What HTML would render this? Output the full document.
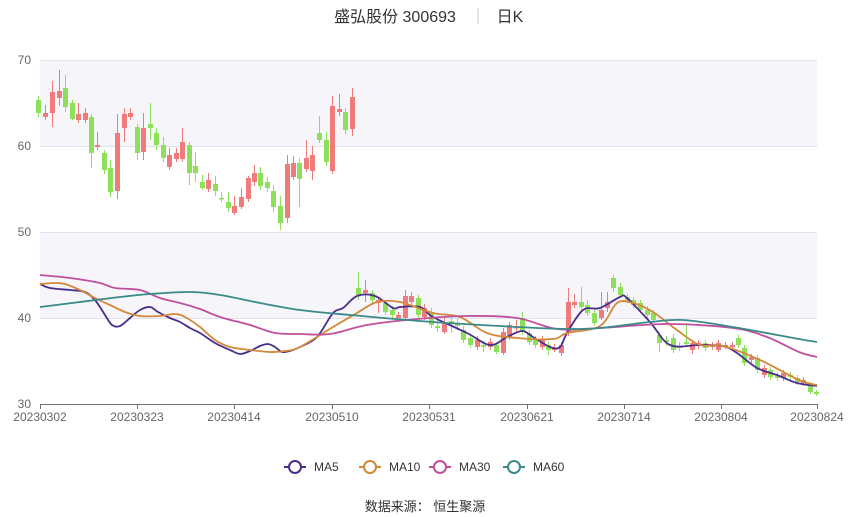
<!DOCTYPE html>
<html><head><meta charset="utf-8"><style>
html,body{margin:0;padding:0;background:#fff;}
svg{display:block;font-family:"Liberation Sans","Noto Sans CJK SC",sans-serif;}
</style></head><body>
<svg id="c" width="850" height="517" viewBox="0 0 850 517" xmlns="http://www.w3.org/2000/svg">
<rect x="40" y="60" width="777" height="86" fill="#f5f5fa"/>
<rect x="40" y="232" width="777" height="86" fill="#f5f5fa"/>
<g stroke="#e0e3ee" stroke-width="1">
<line x1="40" y1="60.5" x2="817" y2="60.5"/><line x1="40" y1="146.5" x2="817" y2="146.5"/>
<line x1="40" y1="232.5" x2="817" y2="232.5"/><line x1="40" y1="318.5" x2="817" y2="318.5"/>
</g>
<g fill="#666" font-size="12" text-anchor="end">
<text x="31" y="64">70</text><text x="31" y="150">60</text><text x="31" y="236">50</text><text x="31" y="322">40</text><text x="31" y="408">30</text>
</g>
<line x1="40" y1="404.5" x2="817" y2="404.5" stroke="#6e7079"/>
<g id="ticks" stroke="#6e7079"></g>
<g fill="#666" font-size="12" text-anchor="middle">
<text x="40" y="421">20230302</text><text x="137" y="421">20230323</text><text x="234" y="421">20230414</text>
<text x="332" y="421">20230510</text><text x="429" y="421">20230531</text><text x="527" y="421">20230621</text>
<text x="624" y="421">20230714</text><text x="721" y="421">20230804</text><text x="817" y="421">20230824</text>
</g>
<g id="cand"></g>
<g id="ma" fill="none" stroke-width="1.8"></g>
<text x="395" y="22" font-size="16" fill="#333" text-anchor="middle">盛弘股份 300693</text>
<line x1="478" y1="8" x2="478" y2="24" stroke="#ccc"/>
<text x="510" y="22" font-size="16" fill="#333" text-anchor="middle">日K</text>
<g font-size="12" fill="#333">
<line x1="284" y1="467" x2="306" y2="467" stroke="#4b2e8c" stroke-width="2"/><circle cx="295" cy="467" r="6" fill="#fff" stroke="#4b2e8c" stroke-width="2"/><text x="314" y="471">MA5</text>
<line x1="359" y1="467" x2="381" y2="467" stroke="#d4883a" stroke-width="2"/><circle cx="370" cy="467" r="6" fill="#fff" stroke="#d4883a" stroke-width="2"/><text x="389" y="471">MA10</text>
<line x1="429" y1="467" x2="451" y2="467" stroke="#c0509e" stroke-width="2"/><circle cx="440" cy="467" r="6" fill="#fff" stroke="#c0509e" stroke-width="2"/><text x="459" y="471">MA30</text>
<line x1="503" y1="467" x2="525" y2="467" stroke="#3a8a8a" stroke-width="2"/><circle cx="514" cy="467" r="6" fill="#fff" stroke="#3a8a8a" stroke-width="2"/><text x="533" y="471">MA60</text>
</g>
<text x="425" y="511" font-size="13" fill="#333" text-anchor="middle">数据来源： 恒生聚源</text>
</svg>
<script>
var NS="http://www.w3.org/2000/svg";
function el(p,n,a){var e=document.createElementNS(NS,n);for(var k in a)e.setAttribute(k,a[k]);p.appendChild(e);return e;}
var tk=document.getElementById('ticks');
[40,137,234,332,429,527,624,721,817].forEach(function(x){el(tk,'line',{x1:x+.5,y1:404,x2:x+.5,y2:409});});
var C=[
[38,100,113,'g',96,117],[45,113,117,'r',105,120],[52,92,113,'r',81,127],[59,91,98,'r',70,106],[65,88,107,'g',75,112],
[72,103,119,'g',100,120],[78,114,120,'r',103,123],[85,113,120,'r',108,123],[91,117,153,'g',114,168],[97,145,147,'r',132,150],
[104,153,170,'g',150,174],[110,168,192,'g',160,197],[117,133,191,'r',114,199],[124,114,128,'r',108,142],[130,113,117,'r',108,120],
[137,127,153,'g',124,160],[143,128,152,'r',113,160],[150,124,128,'g',103,140],[156,133,145,'g',128,150],[163,145,158,'g',137,162],
[169,155,167,'r',148,170],[176,153,159,'r',148,162],[182,142,159,'r',128,162],[189,145,173,'g',142,185],[195,166,173,'g',152,182],
[202,182,188,'g',175,190],[208,180,189,'r',173,192],[215,184,191,'g',176,196],[221,198,199,'g',192,202],[228,202,208,'g',192,212],
[234,206,213,'r',196,215],[241,197,207,'r',188,209],[248,178,199,'r',176,202],[254,173,182,'r',165,186],[260,173,186,'g',167,190],
[267,182,188,'g',177,192],[273,191,207,'g',185,212],[280,206,223,'g',196,230],[287,164,218,'r',155,223],[293,163,177,'r',156,180],
[299,163,179,'g',158,207],[306,158,169,'r',140,172],[312,155,171,'r',146,180],[319,133,140,'g',116,143],[326,140,162,'g',132,166],
[332,106,171,'r',96,174],[339,109,112,'r',94,116],[345,112,130,'g',108,134],[352,97,129,'r',88,136],
[358,288,295,'g',272,300],[365,290,293,'r',280,302],[372,293,300,'g',290,304],[378,300,303,'r',297,313],[385,303,312,'g',300,315],
[392,310,315,'g',306,318],[398,315,318,'r',312,320],[405,296,318,'r',290,320],[411,296,302,'r',292,308],[418,298,315,'g',295,318],
[424,308,317,'r',304,320],[431,312,325,'g',308,328],[437,326,328,'g',320,332],[444,322,332,'r',318,334],[451,321,323,'g',318,333],
[457,324,326,'g',318,330],[463,330,340,'g',326,343],[470,338,345,'g',334,348],[477,340,347,'r',336,350],[483,345,347,'g',341,352],
[490,342,347,'r',338,350],[496,345,352,'g',342,354],[503,332,353,'r',328,355],[509,325,337,'r',322,340],[516,327,328,'r',320,332],
[522,318,332,'g',312,335],[529,333,342,'g',330,345],[535,340,345,'g',336,348],[542,340,347,'r',336,350],[548,345,350,'g',342,355],
[554,348,350,'r',344,352],[561,345,353,'r',342,356],[568,302,333,'r',288,336],[574,302,305,'r',294,308],[581,302,307,'g',287,310],
[587,305,313,'g',300,316],[594,313,323,'g',308,326],[601,310,318,'r',292,320],[607,302,308,'r',292,312],[613,278,288,'g',275,292],
[620,287,295,'g',283,298],[627,297,300,'g',294,303],[633,300,305,'g',297,308],[640,303,310,'g',300,313],[647,310,315,'g',306,318],
[653,313,320,'g',310,323],[659,335,343,'g',332,352],[666,340,342,'g',336,346],[673,338,350,'g',334,353],[679,346,348,'g',342,351],
[686,342,344,'g',323,347],[692,343,350,'r',340,354],[698,343,346,'r',340,349],[705,343,348,'g',340,351],[712,345,347,'r',342,350],
[718,343,350,'r',340,352],[725,345,347,'r',342,349],[732,345,347,'r',342,349],[738,338,345,'g',335,348],[744,348,363,'g',345,366],
[751,357,360,'r',354,363],[757,358,370,'g',355,373],[764,368,375,'r',365,378],[770,370,377,'g',367,380],[777,375,378,'g',372,381],
[783,373,378,'r',370,381],[790,375,377,'g',372,380],[797,378,382,'g',375,385],[803,380,383,'r',377,386],[810,385,392,'g',382,394],[816,392,394,'g',390,396]
];
var cg=document.getElementById('cand');
C.forEach(function(c){
 var col=c[3]=='g'?'#8ee05a':'#ef7b7b';
 el(cg,'line',{x1:c[0]+.5,y1:c[4],x2:c[0]+.5,y2:c[5],stroke:col,'stroke-width':1});
 var h=Math.max(1.5,c[2]-c[1]);
 el(cg,'rect',{x:c[0]-2,y:c[1],width:5,height:h,fill:col});
});
var M={
'#4b2e8c':[[40,284],[50,288],[70,290],[85,292],[95,300],[105,315],[112,325],[120,326],[130,318],[140,310],[150,307],[158,312],[170,318],[180,322],[190,328],[200,333],[215,343],[230,350],[240,354],[250,351],[260,346],[268,344],[275,347],[282,352],[290,351],[300,347],[317,337],[333,313],[343,308],[357,296],[375,296],[393,308],[400,307],[420,307],[433,317],[467,333],[490,345],[507,337],[522,331],[533,337],[550,347],[560,347],[567,333],[583,310],[600,308],[620,297],[627,298],[650,322],[670,345],[700,345],[723,346],[737,353],[757,368],[777,375],[797,383],[817,386]],
'#d4883a':[[40,284],[55,283],[65,284],[80,290],[95,298],[110,305],[125,312],[140,316],[160,316],[175,314],[185,317],[200,327],[215,340],[230,347],[250,350],[270,352],[285,351],[300,347],[333,327],[357,313],[377,302],[400,302],[433,313],[460,317],[487,333],[517,338],[553,339],[567,333],[600,326],[617,303],[633,303],[653,312],[677,330],[700,345],[723,346],[760,360],[799,380],[817,385]],
'#c0509e':[[40,275],[70,278],[100,283],[115,288],[140,290],[160,298],[180,303],[200,309],[220,317],[250,325],[275,333],[300,334],[330,334],[367,325],[417,319],[467,316],[517,318],[557,329],[600,328],[667,324],[733,328],[767,337],[799,352],[817,357]],
'#3a8a8a':[[40,307],[80,302],[120,297],[150,294],[190,292],[220,295],[260,303],[300,310],[350,315],[433,322],[517,327],[567,329],[600,328],[650,322],[683,320],[733,327],[799,339],[817,342]]
};
var mg=document.getElementById('ma');
for(var k in M){
 var p=M[k],n=p.length,d='M'+p[0][0]+' '+p[0][1];
 for(var i=0;i<n-1;i++){
  var p0=p[Math.max(0,i-1)],p1=p[i],p2=p[i+1],p3=p[Math.min(n-1,i+2)];
  var c1x=p1[0]+(p2[0]-p0[0])/6,c1y=p1[1]+(p2[1]-p0[1])/6;
  var c2x=p2[0]-(p3[0]-p1[0])/6,c2y=p2[1]-(p3[1]-p1[1])/6;
  d+=' C'+c1x.toFixed(1)+' '+c1y.toFixed(1)+' '+c2x.toFixed(1)+' '+c2y.toFixed(1)+' '+p2[0]+' '+p2[1];
 }
 el(mg,'path',{d:d,stroke:k,'stroke-linejoin':'round'});
}
</script>
</body></html>
